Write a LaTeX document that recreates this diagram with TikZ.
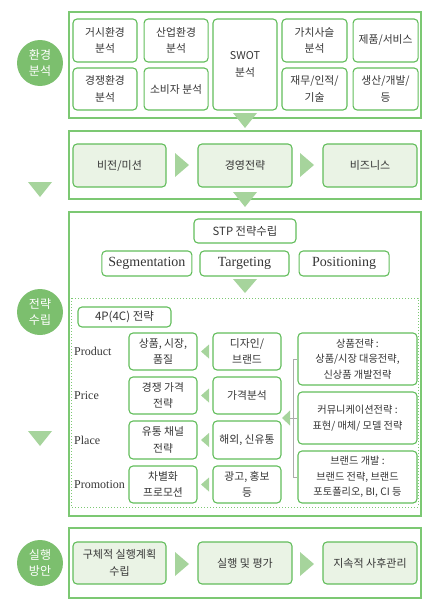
\documentclass[tikz,border=0pt]{standalone}
\usepackage{fontspec}
\setmainfont{Noto Sans CJK KR}
\newfontfamily\serifen{Liberation Serif}
\usepackage{xcolor}
\usetikzlibrary{positioning}

\definecolor{frameG}{HTML}{7CC873}
\definecolor{boxG}{HTML}{62BD5B}
\definecolor{lightG}{HTML}{EAF3E5}
\definecolor{circG}{HTML}{7CBF6E}
\definecolor{triG}{HTML}{A6D49C}
\definecolor{txt}{HTML}{363636}

\begin{document}
\begin{tikzpicture}[x=1pt, y=-1pt,
    envframe/.style = {draw=frameG, line width=1.4pt},
    item/.style = {draw=boxG, rounded corners=4pt, line width=1.1pt, fill=white,
                   align=center, inner sep=1pt, text=txt,
                   font=\fontsize{10.8}{16.5}\selectfont},
    flowbox/.style = {item, fill=lightG, minimum height=43pt, font=\fontsize{11}{16.5}\selectfont},
    note/.style = {item, minimum width=119pt, minimum height=52pt,
                   font=\fontsize{10.2}{15.5}\selectfont},
    engbox/.style = {item, minimum height=25pt, font=\serifen\fontsize{14}{16}\selectfont},
    badge/.style = {circle, fill=circG, text=white, minimum size=46pt, inner sep=0pt,
                    align=center, font=\fontsize{12}{15.5}\selectfont},
    plab/.style = {anchor=west, inner sep=0pt, text=txt, font=\serifen\fontsize{12}{14}\selectfont},
    arrowfill/.style = {fill=triG},
    bracketline/.style = {draw=gray!65, line width=1pt}]
  \useasboundingbox (0,0) rectangle (428,605);

  % environment analysis
  \node[badge] (envtag) at (40,63) {환경\\분석};
  \draw[envframe] (69,12) rectangle (421,118);
  \node[item, minimum width=64pt, minimum height=43pt] (macro) at (105,40.5) {거시환경\\분석};
  \node[item, minimum width=64pt, minimum height=43pt] (industry) [right=6pt of macro] {산업환경\\분석};
  \node[item, minimum width=64pt, minimum height=91pt] (swot) at (245,64.5) {SWOT\\분석};
  \node[item, minimum width=65pt, minimum height=43pt] (valuechain) at (314.5,40.5) {가치사슬\\분석};
  \node[item, minimum width=65pt, minimum height=43pt] (service) [right=5pt of valuechain] {제품/서비스};
  \node[item, minimum width=64pt, minimum height=42pt] (compete) at (105,89) {경쟁환경\\분석};
  \node[item, minimum width=64pt, minimum height=42pt] (consumer) [right=6pt of compete] {소비자 분석};
  \node[item, minimum width=65pt, minimum height=42pt] (finance) at (314.5,89) {재무/인적/\\기술};
  \node[item, minimum width=65pt, minimum height=42pt] (produce) [right=5pt of finance] {생산/개발/\\등};
  \fill[arrowfill] (233,113) -- (257,113) -- (245,128) -- cycle;

  % vision and strategy
  \draw[envframe] (69,131) rectangle (421,199);
  \node[flowbox, minimum width=93pt] (vision) at (119.5,165.5) {비전/미션};
  \node[flowbox, minimum width=94pt] (mgmt) at (245,165.5) {경영전략};
  \node[flowbox, minimum width=94pt] (business) at (370,165.5) {비즈니스};
  \fill[arrowfill] (175,153) -- (189,165) -- (175,177) -- cycle;
  \fill[arrowfill] (300,153) -- (314,165) -- (300,177) -- cycle;
  \fill[arrowfill] (28,182) -- (52,182) -- (40,197) -- cycle;
  \fill[arrowfill] (233,192) -- (257,192) -- (245,207) -- cycle;

  % strategy planning
  \node[badge] (strtag) at (40,312) {전략\\수립};
  \draw[envframe] (69,212) rectangle (421,516);
  \node[item, minimum width=102pt, minimum height=24pt, font=\fontsize{11.3}{13}\selectfont] (stp) at (245,231) {STP 전략수립};
  \node[engbox, minimum width=89pt] (target) at (244.5,263.5) {Targeting};
  \node[engbox, minimum width=90pt] (segment) [left=7pt of target] {Segmentation};
  \node[engbox, minimum width=90pt] (position) [right=9pt of target] {Positioning};
  \fill[arrowfill] (233,279) -- (257,279) -- (245,293) -- cycle;
  \draw[frameG, dotted, line width=1pt] (71,298) rectangle (418,507);
  \node[item, minimum width=93pt, minimum height=20pt, font=\fontsize{11.5}{12}\selectfont] (fourp) at (124.5,317) {4P(4C) 전략};
  \fill[arrowfill] (28,431) -- (52,431) -- (40,446) -- cycle;

  \node[plab] (lprod) at (74,351.5) {Product};
  \node[plab] (lprice) at (74,395.5) {Price};
  \node[plab] (lplace) at (74,440) {Place};
  \node[plab] (lpromo) at (74,484.5) {Promotion};

  \node[item, minimum width=68pt, minimum height=37pt] (pa1) at (163,351.5) {상품, 시장,\\품질};
  \node[item, minimum width=68pt, minimum height=37pt] (pa2) at (163,395.5) {경쟁 가격\\전략};
  \node[item, minimum width=68pt, minimum height=38pt] (pa3) at (163,440) {유통 채널\\전략};
  \node[item, minimum width=68pt, minimum height=37pt] (pa4) at (163,484.5) {차별화\\프로모션};
  \node[item, minimum width=68pt, minimum height=37pt] (pb1) at (247,351.5) {디자인/\\브랜드};
  \node[item, minimum width=68pt, minimum height=37pt] (pb2) at (247,395.5) {가격분석};
  \node[item, minimum width=68pt, minimum height=38pt] (pb3) at (247,440) {해외, 신유통};
  \node[item, minimum width=68pt, minimum height=37pt] (pb4) at (247,484.5) {광고, 홍보\\등};
  \fill[arrowfill] (209,344.5) -- (201,351.5) -- (209,358.5) -- cycle;
  \fill[arrowfill] (209,388.5) -- (201,395.5) -- (209,402.5) -- cycle;
  \fill[arrowfill] (209,433) -- (201,440) -- (209,447) -- cycle;
  \fill[arrowfill] (209,477.5) -- (201,484.5) -- (209,491.5) -- cycle;

  \node[note] (r1) at (357.5,359) {상품전략 :\\상품/시장 대응전략,\\신상품 개발전략};
  \node[note] (r2) at (357.5,418) {커뮤니케이션전략 :\\표현/ 매체/ 모델 전략};
  \node[note] (r3) at (357.5,477) {브랜드 개발 :\\브랜드 전략, 브랜드\\포토폴리오, BI, CI 등};
  \coordinate (tip) at (290,418);
  \draw[bracketline] (r1.west) -- ++(-4,0) |- (r3.west);
  \draw[bracketline] (r2.west) -- (tip);
  \fill[arrowfill] (290,410.5) -- (282,418) -- (290,425.5) -- cycle;

  % action plan
  \node[badge] (acttag) at (40,563) {실행\\방안};
  \draw[envframe] (69,528) rectangle (421,598);
  \node[flowbox, minimum width=93pt, minimum height=42pt] (plan) at (119.5,563) {구체적 실행계획\\수립};
  \node[flowbox, minimum width=94pt, minimum height=42pt] (execute) at (245,563) {실행 및 평가};
  \node[flowbox, minimum width=94pt, minimum height=42pt] (aftercare) at (370,563) {지속적 사후관리};
  \fill[arrowfill] (175,552) -- (189,564) -- (175,576) -- cycle;
  \fill[arrowfill] (300,552) -- (314,564) -- (300,576) -- cycle;
\end{tikzpicture}
\end{document}
